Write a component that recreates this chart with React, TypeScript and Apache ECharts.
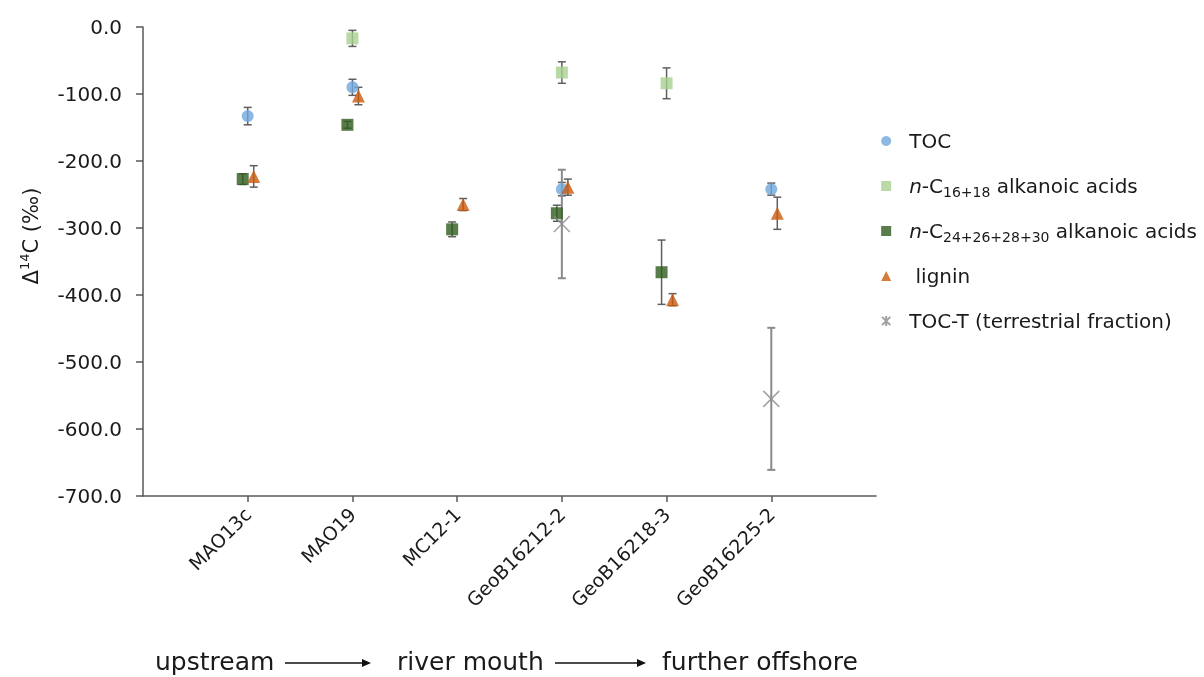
import React, { useEffect, useRef } from "react";
import * as echarts from "echarts";

const categories = ["MAO13c", "MAO19", "MC12-1", "GeoB16212-2", "GeoB16218-3", "GeoB16225-2"];
const yTicks = [0, -100, -200, -300, -400, -500, -600, -700];

const tocValues = [-133, -90, null, -242, null, -242];
const tocErrors = [13, 12, null, 10, null, 9];

const c16Values = [null, -17, null, -68, -84, null];
const c16Errors = [null, 12, null, 16, 23, null];

const c24Values = [-227, -146, -302, -278, -366, null];
const c24Errors = [8, 5, 11, 12, 48, null];

const ligninValues = [-223, -103, -265, -239, -407, -278];
const ligninErrors = [16, 13, 9, 12, 9, 24];

const tocTValues = [null, null, null, -294, null, -555];
const tocTErrors = [null, null, null, 81, null, 106];

const FONT = "DejaVu Sans";
const TXT = "#1a1a1a";

function build(values: (number | null)[], errors: (number | null)[]) {
  const out: number[][] = [];
  values.forEach((v, i) => {
    if (v !== null) out.push([i + 1, v, errors[i] ?? 0]);
  });
  return out;
}

function errSeries(name: string, data: number[][], dx: number, stroke: string, lw: number) {
  return {
    type: "custom",
    name,
    z: 1,
    silent: true,
    data,
    encode: { x: 0, y: 1 },
    renderItem: (params: any, api: any) => {
      const x = api.value(0);
      const y = api.value(1);
      const e = api.value(2);
      const p1 = api.coord([x, y + e]);
      const p2 = api.coord([x, y - e]);
      const px = p1[0] + dx;
      const cap = 4;
      return {
        type: "group",
        children: [
          { type: "line", shape: { x1: px, y1: p1[1], x2: px, y2: p2[1] }, style: { stroke, lineWidth: lw } },
          { type: "line", shape: { x1: px - cap, y1: p1[1], x2: px + cap, y2: p1[1] }, style: { stroke, lineWidth: lw } },
          { type: "line", shape: { x1: px - cap, y1: p2[1], x2: px + cap, y2: p2[1] }, style: { stroke, lineWidth: lw } },
        ],
      };
    },
  };
}

const N_TOC = "TOC";
const N_C16 = "n-C16+18 alkanoic acids";
const N_C24 = "n-C24+26+28+30 alkanoic acids";
const N_LIG = "lignin";
const N_TOCT = "TOC-T (terrestrial fraction)";

const legendLabels: Record<string, string> = {
  [N_TOC]: "TOC",
  [N_C16]: "{i|n}-C{sub|16+18} alkanoic acids",
  [N_C24]: "{i|n}-C{sub|24+26+28+30} alkanoic acids",
  [N_LIG]: " lignin",
  [N_TOCT]: "TOC-T (terrestrial fraction)",
};

export default function App() {
  const ref = useRef<HTMLDivElement>(null);
  useEffect(() => {
    if (!ref.current) return;
    const chart = echarts.init(ref.current, undefined, { renderer: "svg" });
    const tocData = build(tocValues, tocErrors);
    const c16Data = build(c16Values, c16Errors);
    const c24Data = build(c24Values, c24Errors);
    const ligData = build(ligninValues, ligninErrors);
    const tocTData = build(tocTValues, tocTErrors);
    const errColor = "#5f5f5f";
    const xPath = "path://M0,0L10,10M10,0L0,10";
    const xLegendPath = "path://M0,0L10,10M10,0L0,10M5,-1L5,11";

    chart.setOption({
      animation: false,
      grid: { left: 143, top: 27, width: 733, height: 469, containLabel: false },
      xAxis: {
        type: "value",
        min: 0,
        max: 7,
        interval: 1,
        splitLine: { show: false },
        axisLine: { show: true, onZero: false, lineStyle: { color: "#595959", width: 1.5 } },
        axisTick: { show: true, customValues: [1, 2, 3, 4, 5, 6], length: 6, lineStyle: { color: "#595959", width: 1.5 } },
        axisLabel: {
          customValues: [1, 2, 3, 4, 5, 6],
          formatter: (v: number) => categories[Math.round(v) - 1] ?? "",
          rotate: 45,
          margin: 15,
          fontFamily: FONT,
          fontSize: 19,
          color: TXT,
        },
      },
      yAxis: {
        type: "value",
        min: -700,
        max: 0,
        interval: 100,
        splitLine: { show: false },
        axisLine: { show: true, onZero: false, lineStyle: { color: "#595959", width: 1.5 } },
        axisTick: { show: true, length: 7, lineStyle: { color: "#595959", width: 1.5 } },
        axisLabel: {
          formatter: (v: number) => (yTicks.includes(v) ? v.toFixed(1) : ""),
          margin: 21,
          fontFamily: FONT,
          fontSize: 20,
          color: TXT,
        },
      },
      legend: {
        orient: "vertical",
        left: 881,
        top: 128,
        padding: 0,
        itemGap: 19,
        itemWidth: 10,
        itemHeight: 10,
        data: [
          { name: N_TOC, icon: "circle" },
          { name: N_C16, icon: "rect" },
          { name: N_C24, icon: "rect" },
          { name: N_LIG, icon: "triangle" },
          { name: N_TOCT, icon: xLegendPath },
        ],
        formatter: (name: string) => legendLabels[name] ?? name,
        textStyle: {
          fontFamily: FONT,
          fontSize: 20,
          color: TXT,
          lineHeight: 26,
          padding: [0, 0, 0, 13],
          rich: {
            i: { fontFamily: FONT, fontSize: 20, fontStyle: "italic", color: TXT, lineHeight: 26 },
            sub: { fontFamily: FONT, fontSize: 14, color: TXT, verticalAlign: "bottom", lineHeight: 26 },
          },
        },
      },
      graphic: [
        {
          type: "text",
          x: 31,
          y: 236,
          rotation: Math.PI / 2,
          style: {
            text: "{a|Δ}{s|14}{a|C (‰)}",
            align: "center",
            verticalAlign: "middle",
            rich: {
              a: { fontFamily: FONT, fontSize: 21, fill: TXT, lineHeight: 26 },
              s: { fontFamily: FONT, fontSize: 13, fill: TXT, verticalAlign: "top", lineHeight: 26 },
            },
          },
        },
        { type: "text", x: 155, y: 661, style: { text: "upstream", fontFamily: FONT, fontSize: 25, fill: TXT, verticalAlign: "middle" } },
        { type: "line", shape: { x1: 285, y1: 663, x2: 364, y2: 663 }, style: { stroke: "#111", lineWidth: 1.5 } },
        { type: "polygon", shape: { points: [[371, 663], [362, 659], [362, 667]] }, style: { fill: "#111" } },
        { type: "text", x: 397, y: 661, style: { text: "river mouth", fontFamily: FONT, fontSize: 25, fill: TXT, verticalAlign: "middle" } },
        { type: "line", shape: { x1: 555, y1: 663, x2: 639, y2: 663 }, style: { stroke: "#111", lineWidth: 1.5 } },
        { type: "polygon", shape: { points: [[646, 663], [637, 659], [637, 667]] }, style: { fill: "#111" } },
        { type: "text", x: 662, y: 661, style: { text: "further offshore", fontFamily: FONT, fontSize: 25, fill: TXT, verticalAlign: "middle" } },
      ],
      series: [
        errSeries("err-toc", tocData, 0, errColor, 1.5),
        errSeries("err-c16", c16Data, 0, errColor, 1.5),
        errSeries("err-c24", c24Data, -5, errColor, 1.5),
        errSeries("err-lig", ligData, 6, errColor, 1.5),
        errSeries("err-toct", tocTData, 0, "#8a8a8a", 2),
        {
          type: "scatter", name: N_TOC, data: tocData, encode: { x: 0, y: 1 }, z: 3,
          symbol: "circle", symbolSize: 12, itemStyle: { color: "#6FA8DC" },
        },
        {
          type: "scatter", name: N_C16, data: c16Data, encode: { x: 0, y: 1 }, z: 3,
          symbol: "rect", symbolSize: 12, itemStyle: { color: "#A9D18E" },
        },
        {
          type: "scatter", name: N_C24, data: c24Data, encode: { x: 0, y: 1 }, z: 3,
          symbol: "rect", symbolSize: 12, symbolOffset: [-5, 0], itemStyle: { color: "#2F5B1E" },
        },
        {
          type: "scatter", name: N_LIG, data: ligData, encode: { x: 0, y: 1 }, z: 3,
          symbol: "triangle", symbolSize: 13, symbolOffset: [6, 0], itemStyle: { color: "#CC5A0E" },
        },
        {
          type: "scatter", name: N_TOCT, data: tocTData, encode: { x: 0, y: 1 }, z: 3,
          symbol: xPath, symbolSize: 16, itemStyle: { color: "rgba(0,0,0,0)", borderColor: "#8a8a8a", borderWidth: 1.5 },
        },
      ],
    });
    return () => chart.dispose();
  }, []);
  return <div ref={ref} style={{ position: "fixed", left: 0, top: 0, width: 1204, height: 677 }} />;
}
